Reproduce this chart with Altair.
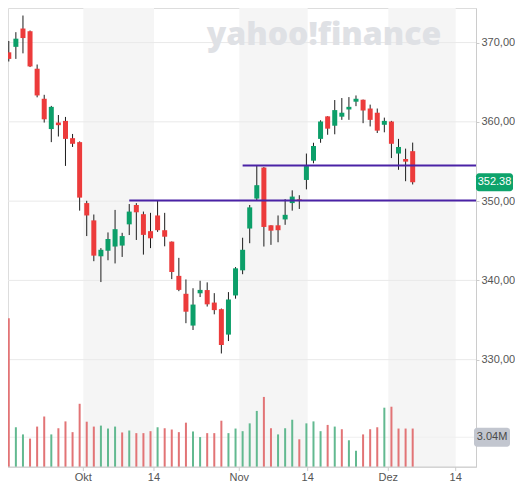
import altair as alt
import pandas as pd

# ---- data ----
opens = [370.32, 368.77, 369.46, 371.77, 371.43, 366.70, 362.91, 359.09, 359.91, 360.12,
         357.94, 357.44, 349.75, 347.57, 343.04, 343.74, 344.27, 344.39, 347.07, 349.51,
         348.35, 346.21, 348.19, 346.33, 344.89, 340.57, 338.31, 334.30, 338.37, 338.78,
         337.20, 336.37, 333.16, 338.10, 341.27, 346.54, 350.32, 354.23, 346.95, 346.95,
         347.69, 349.75, 350.22, 352.67, 355.10, 357.85, 360.69, 359.51, 360.65, 361.56,
         362.54, 362.79, 361.68, 361.15, 359.63, 360.04, 356.00, 355.31, 356.30]
closes = [369.58, 367.94, 370.49, 370.57, 366.99, 363.33, 360.32, 361.89, 359.58, 357.85,
          357.23, 350.44, 348.19, 343.12, 343.86, 345.22, 346.46, 345.59, 348.68, 348.59,
          345.74, 345.31, 346.33, 345.51, 341.06, 338.80, 336.05, 336.95, 338.80, 336.98,
          336.25, 331.85, 337.59, 341.52, 343.86, 349.21, 352.01, 346.74, 346.27, 346.33,
          348.27, 350.57, 350.04, 354.42, 356.95, 360.04, 359.14, 361.48, 361.15, 361.89,
          362.91, 361.43, 360.25, 358.89, 360.12, 357.23, 356.83, 354.98, 352.38]
highs = [370.41, 370.20, 371.31, 373.41, 371.52, 367.23, 363.41, 362.01, 360.86, 360.62,
         358.47, 357.53, 350.04, 348.31, 344.07, 346.05, 348.89, 346.00, 349.63, 349.75,
         348.68, 348.52, 350.07, 348.52, 344.91, 342.84, 340.12, 339.01, 339.95, 339.75,
         338.39, 336.45, 338.52, 341.68, 345.38, 349.51, 354.48, 354.30, 346.95, 348.19,
         350.25, 351.36, 350.74, 356.00, 357.36, 360.20, 360.71, 362.75, 363.00, 363.12,
         363.33, 362.81, 362.17, 361.68, 360.53, 360.12, 357.85, 356.62, 357.38]
lows = [368.56, 367.61, 367.94, 368.64, 366.91, 363.09, 359.91, 357.44, 358.15, 354.44,
        356.83, 348.80, 345.59, 342.42, 339.79, 342.54, 342.14, 342.96, 345.72, 345.10,
        343.25, 344.07, 346.12, 344.30, 340.16, 338.64, 334.60, 333.74, 337.90, 336.70,
        335.72, 330.78, 332.35, 337.69, 340.78, 344.69, 350.04, 344.27, 344.48, 344.81,
        347.01, 348.80, 349.01, 351.48, 354.77, 357.36, 358.37, 358.43, 360.25, 360.25,
        361.98, 359.83, 359.42, 358.59, 358.68, 355.43, 353.95, 352.51, 352.10]
volumes = [4.73, 15.2, 4.06, 3.33, 2.90, 4.13, 5.16, 3.33, 3.96, 4.66,
           3.56, 6.46, 4.63, 4.13, 4.23, 3.93, 4.13, 3.53, 3.73, 3.46,
           3.46, 3.66, 4.06, 3.96, 3.83, 3.56, 4.53, 3.63, 3.06, 3.46,
           3.46, 4.73, 3.46, 3.93, 3.66, 4.46, 5.73, 7.16, 3.96, 3.33,
           3.96, 4.83, 2.83, 4.46, 4.66, 3.66, 4.30, 4.13, 3.86, 2.73,
           1.66, 3.33, 3.86, 4.06, 6.06, 6.16, 3.93, 3.93, 3.93]

tick_pos = [11.52, 21.49, 33.53, 43.18, 54.56, 64.07]
tick_labels = ["Okt", "14", "Nov", "14", "Dez", "14"]
price_ticks = [330, 340, 350, 360, 370]
level_start = [18, 34]
level_price = [350.08, 354.5]
last_price = closes[-1]
volume_label = 3.04
watermark = "yahoo!finance"

# ---- layout ----
W, H = 468, 459
X_DOM = [0.889, 66.935]
P_DOM = [316.46, 374.36]
V_DOM = [0, 46.9]
GREEN, RED = "#0c9f69", "#ec3b3b"
VGREEN, VRED = "#62b990", "#e27476"
AXIS = "#cccccc"
FONT = "Liberation Sans"

n = len(closes)
df = pd.DataFrame({
    "idx": list(range(n)), "open": opens, "close": closes,
    "high": highs, "low": lows, "vol": volumes,
})
df["up"] = df["close"] >= df["open"]
prev = df["close"].shift(1)
df["vup"] = (df["close"] >= prev) | prev.isna()

bands = pd.DataFrame({"a": tick_pos[0::2], "b": tick_pos[1::2]})
xticks = pd.DataFrame({"x": tick_pos, "t": tick_labels})
grid = pd.DataFrame({"p": price_ticks})
levels = pd.DataFrame({"s": level_start, "p": level_price})

xs = alt.Scale(domain=X_DOM, nice=False, zero=False, padding=0)
ps = alt.Scale(domain=P_DOM, nice=False, zero=False, padding=0)
vs = alt.Scale(domain=V_DOM, nice=False, zero=False, padding=0)

y_axis = alt.Axis(values=price_ticks, orient="right", title=None, grid=False,
                  labelExpr="replace(format(datum.value, '.2f'), '.', ',')",
                  domainColor=AXIS, tickColor=AXIS, tickSize=3,
                  labelColor="#555555", labelFontSize=11, labelFont=FONT,
                  labelPadding=2, labelFlush=False, labelBaseline="middle")

band_layer = alt.Chart(bands).mark_rect(color="#f5f5f5").encode(
    x=alt.X("a:Q", scale=xs, axis=None), x2="b:Q",
    y=alt.value(0), y2=alt.value(H))

grid_layer = alt.Chart(grid).mark_rule(color="#e9e9e9", strokeWidth=1).encode(
    y=alt.Y("p:Q", scale=ps, axis=None), x=alt.value(0), x2=alt.value(W))

wm_layer = alt.Chart(pd.DataFrame({"t": [watermark]})).mark_text(
    font="Open Sans", fontSize=32, fontWeight=800, color="#dfe1e5",
    align="center", baseline="alphabetic").encode(
    text="t:N", x=alt.value(316), y=alt.value(37))

vgrid_layer = alt.Chart(pd.DataFrame({"v": [volume_label]})).mark_rule(
    color="#efefef", strokeWidth=1).encode(
    y=alt.Y("v:Q", scale=vs, axis=None), x=alt.value(0), x2=alt.value(W))

vol_layer = alt.Chart(df).mark_bar(size=2, clip=True).encode(
    x=alt.X("idx:Q", scale=xs, axis=None),
    y=alt.Y("vol:Q", scale=vs, axis=None),
    color=alt.Color("vup:N", scale=alt.Scale(domain=[True, False], range=[VGREEN, VRED]), legend=None))

wick_layer = alt.Chart(df).mark_rule(color="#1c1c1c", strokeWidth=1, clip=True).encode(
    x=alt.X("idx:Q", scale=xs, axis=None),
    y=alt.Y("low:Q", scale=ps, axis=y_axis), y2="high:Q")

body_layer = alt.Chart(df).mark_bar(size=5, clip=True).encode(
    x=alt.X("idx:Q", scale=xs, axis=None),
    y=alt.Y("open:Q", scale=ps, axis=None), y2="close:Q",
    color=alt.Color("up:N", scale=alt.Scale(domain=[True, False], range=[GREEN, RED]), legend=None))

level_layer = alt.Chart(levels).mark_rule(color="#4a22a6", strokeWidth=2).encode(
    x=alt.X("s:Q", scale=xs, axis=None), x2=alt.value(W),
    y=alt.Y("p:Q", scale=ps, axis=None))

# bottom axis drawn as marks
xdomain_layer = alt.Chart(pd.DataFrame({"d": [0]})).mark_rule(color=AXIS, strokeWidth=1).encode(
    x=alt.value(0), x2=alt.value(W), y=alt.value(H))
xtick_layer = alt.Chart(xticks).mark_rule(color=AXIS, strokeWidth=1).encode(
    x=alt.X("x:Q", scale=xs, axis=None), y=alt.value(H), y2=alt.value(H + 4))
xlabel_layer = alt.Chart(xticks).mark_text(color="#555555", fontSize=11, font=FONT,
                                           align="center", baseline="top").encode(
    x=alt.X("x:Q", scale=xs, axis=None), y=alt.value(H + 5), text="t:N")

badge = pd.DataFrame({"p": [last_price], "t": [f"{last_price:.2f}"]})
badge["top"] = badge["p"] + 1.15
badge["bot"] = badge["p"] - 1.15
badge_rect = alt.Chart(badge).mark_rect(color="#0ea36b", cornerRadius=3).encode(
    x=alt.value(W), x2=alt.value(W + 37),
    y=alt.Y("top:Q", scale=ps, axis=None), y2="bot:Q")
badge_text = alt.Chart(badge).mark_text(color="white", fontSize=11, font=FONT,
                                        align="center", baseline="middle").encode(
    x=alt.value(W + 18.5), y=alt.Y("p:Q", scale=ps, axis=None), text="t:N")

vbadge = pd.DataFrame({"v": [volume_label], "t": [f"{volume_label:.2f}M"]})
vbadge["top"] = vbadge["v"] + 0.98
vbadge["bot"] = vbadge["v"] - 0.98
vbadge_rect = alt.Chart(vbadge).mark_rect(color="#c2c6cf", cornerRadius=3).encode(
    x=alt.value(W - 2), x2=alt.value(W + 34),
    y=alt.Y("top:Q", scale=vs, axis=None), y2="bot:Q")
vbadge_text = alt.Chart(vbadge).mark_text(color="#4a4a4a", fontSize=11, font=FONT,
                                          align="center", baseline="middle").encode(
    x=alt.value(W + 16), y=alt.Y("v:Q", scale=vs, axis=None), text="t:N")

chart = alt.layer(
    band_layer, grid_layer, wm_layer, vgrid_layer, vol_layer, wick_layer, body_layer,
    level_layer, xdomain_layer, xtick_layer, xlabel_layer,
    badge_rect, badge_text, vbadge_rect, vbadge_text
).resolve_scale(y="independent", color="independent").properties(
    width=W, height=H,
    autosize=alt.AutoSizeParams(type="none"),
    padding={"left": 0, "top": 0, "right": 39, "bottom": 15},
).configure_view(stroke=None).configure(background="white")

chart.save("out.html", embed_options={"renderer": "svg", "actions": False})
